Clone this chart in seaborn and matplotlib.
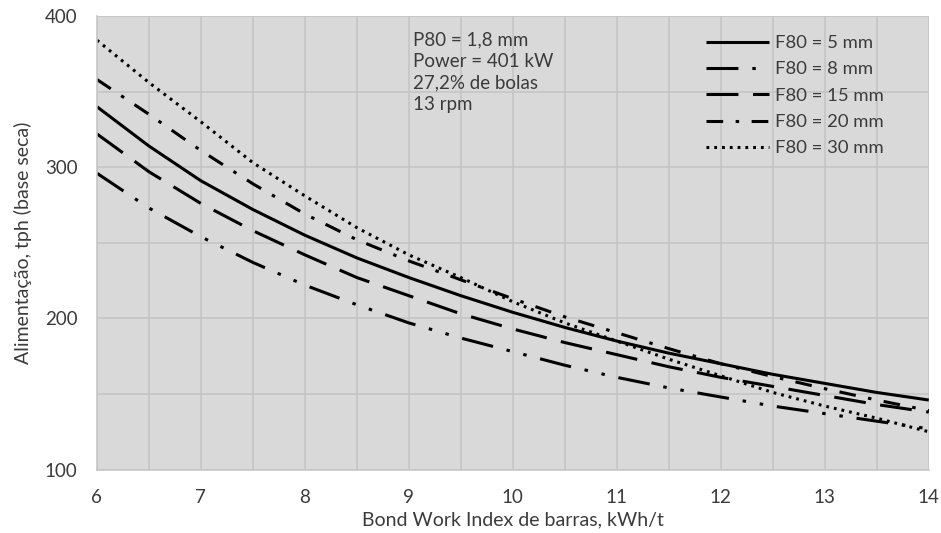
import numpy as np
import pandas as pd
import matplotlib
matplotlib.use("Agg")
import matplotlib.pyplot as plt
from matplotlib.ticker import MultipleLocator
import seaborn as sns

# Dados (Wi de barras x alimentação)
wi = [6, 6.5, 7, 7.5, 8, 8.5, 9, 9.5, 10, 10.5, 11, 11.5, 12, 12.5, 13, 13.5, 14]
f80_5 = [340, 314, 291, 272, 255, 240, 227, 215, 204, 194, 185, 177, 170, 163, 157, 151, 146]
f80_8 = [296, 273, 254, 237, 222, 209, 197, 187, 178, 169, 161, 154, 148, 142, 137, 132, 127]
f80_15 = [322, 297, 276, 258, 242, 227, 215, 203, 193, 184, 176, 168, 161, 155, 149, 143, 138]
f80_20 = [358, 335, 311, 289, 269, 252, 238, 225.5, 213, 201, 190.5, 180, 170, 161.5, 153.5, 146, 139]
f80_30 = [384, 356, 330, 303, 281, 260, 242, 227, 211, 197, 185, 173, 162, 151, 142, 134, 125]

labels = ["F80 = 5 mm", "F80 = 8 mm", "F80 = 15 mm", "F80 = 20 mm", "F80 = 30 mm"]
series = [f80_5, f80_8, f80_15, f80_20, f80_30]
# padrões de traço em pontos
estilos = [
    "-",
    (0, (23, 10, 2.5, 10, 2.5, 10)),
    (0, (23, 10.5)),
    (0, (12, 9, 2.5, 9)),
    (0, (2, 3.6)),
]

info = "P80 = 1,8 mm\nPower = 401 kW\n27,2% de bolas\n13 rpm"

sns.set_style("whitegrid", {"axes.facecolor": "#d9d9d9", "grid.color": "#c4c4c4",
                            "axes.edgecolor": "#c4c4c4"})
plt.rcParams["font.family"] = ["Lato", "DejaVu Sans"]
plt.rcParams["lines.scale_dashes"] = False
cor_texto = "#3b3b3b"

fig = plt.figure(figsize=(9.41, 5.33), dpi=100)
ax = fig.add_axes([0.103, 0.119, 0.884, 0.851])

for vals, lab, ls in zip(series, labels, estilos):
    sns.lineplot(x=wi, y=vals, ax=ax, color="black", lw=2.2, linestyle=ls,
                 label=lab, dash_capstyle="butt", solid_capstyle="butt")

ax.set_xlim(6, 14)
ax.set_ylim(100, 400)
ax.xaxis.set_major_locator(MultipleLocator(1))
ax.xaxis.set_minor_locator(MultipleLocator(0.5))
ax.yaxis.set_major_locator(MultipleLocator(100))
ax.yaxis.set_minor_locator(MultipleLocator(50))
ax.grid(True, which="both", color="#c4c4c4", lw=1.1)
ax.tick_params(which="both", direction="out", length=5, width=1, color="#c4c4c4",
               labelsize=13.5, labelcolor=cor_texto, pad=9)
ax.tick_params(which="minor", labelleft=False, labelbottom=False)
for s in ["top", "right"]:
    ax.spines[s].set_visible(False)
for s in ["left", "bottom"]:
    ax.spines[s].set_color("#c4c4c4")
    ax.spines[s].set_linewidth(1.1)

ax.set_xlabel("Bond Work Index de barras, kWh/t", fontsize=14, color=cor_texto, labelpad=4)
ax.set_ylabel("Alimentação, tph (base seca)", fontsize=14, color=cor_texto, labelpad=9)

fig.text(413 / 941, 1 - 31 / 533, info, fontsize=13.5, color=cor_texto,
         va="top", ha="left", linespacing=1.33)

ax.legend(loc="upper left", bbox_to_anchor=(706 / 941, 1 - 35 / 533),
          bbox_transform=fig.transFigure, frameon=False, fontsize=13.3,
          handlelength=3.4, handletextpad=0.35, labelspacing=0.56,
          borderpad=0, borderaxespad=0, labelcolor=cor_texto)

fig.savefig("out.png", dpi=100)
